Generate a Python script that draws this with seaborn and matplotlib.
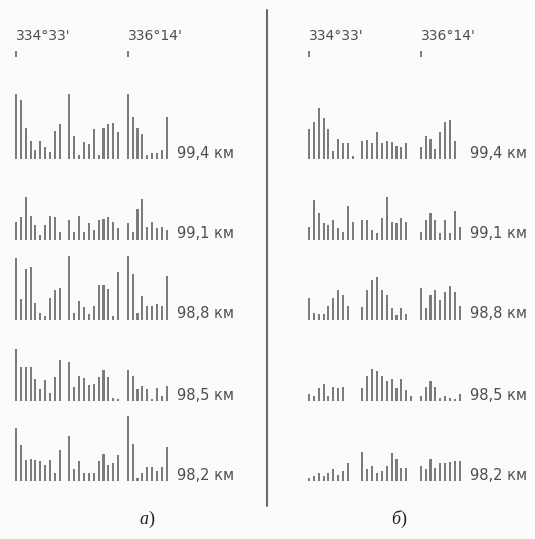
import matplotlib
matplotlib.use("Agg")
import matplotlib.pyplot as plt
from matplotlib.lines import Line2D
import pandas as pd
import seaborn as sns

# Depth of each trace (km) and the azimuth marks above the traces
depths = ["99,4 км", "99,1 км", "98,8 км", "98,5 км", "98,2 км"]
azimuths = ["334°33'", "336°14'"]
azimuth_pos = [0, 23]
panel_names = ["а", "б"]

# Panel а: amplitudes per trace, three azimuth sectors each
a_994 = [[65, 59, 31, 18, 9, 18, 12, 7, 28, 35],
         [65, 23, 4, 17, 15, 30, 4, 31, 35, 36, 27],
         [65, 42, 31, 25, 4, 6, 6, 9, 42]]
a_991 = [[18, 23, 43, 24, 15, 5, 15, 24, 23, 8],
         [20, 8, 24, 8, 17, 10, 20, 21, 23, 18, 12],
         [17, 8, 31, 41, 13, 18, 12, 13, 10]]
a_988 = [[62, 21, 51, 53, 17, 7, 4, 22, 30, 32],
         [64, 7, 19, 13, 6, 14, 35, 35, 31, 4, 48],
         [64, 46, 7, 24, 14, 14, 16, 14, 44]]
a_985 = [[52, 34, 34, 34, 22, 12, 21, 8, 24, 41],
         [39, 14, 25, 23, 16, 17, 24, 31, 24, 3, 2],
         [31, 25, 12, 15, 12, 2, 13, 5, 15]]
a_982 = [[53, 36, 21, 22, 21, 20, 16, 21, 8, 31],
         [45, 12, 20, 8, 8, 8, 20, 27, 16, 18, 26],
         [65, 37, 3, 8, 14, 14, 10, 14, 34]]

# Panel б
b_994 = [[30, 37, 51, 41, 30, 8, 20, 16, 16, 3],
         [18, 19, 16, 27, 16, 18, 17, 13, 12, 16, 0],
         [12, 23, 20, 10, 27, 37, 39, 18, 0]]
b_991 = [[13, 40, 27, 17, 15, 20, 12, 8, 34, 18],
         [20, 20, 10, 7, 22, 43, 18, 17, 22, 18, 0],
         [8, 20, 27, 20, 7, 20, 7, 29, 13]]
b_988 = [[22, 7, 6, 6, 14, 22, 30, 25, 14, 0],
         [13, 30, 40, 43, 30, 25, 12, 5, 12, 6, 0],
         [32, 12, 25, 30, 20, 28, 34, 28, 14]]
b_985 = [[7, 5, 13, 17, 5, 14, 13, 14, 0, 0],
         [13, 25, 32, 30, 25, 20, 22, 13, 22, 11, 5],
         [5, 14, 20, 14, 3, 5, 3, 2, 7]]
b_982 = [[3, 5, 8, 5, 8, 12, 6, 10, 18, 0],
         [29, 12, 15, 8, 10, 15, 28, 22, 13, 13, 0],
         [15, 12, 22, 13, 18, 18, 19, 20, 20]]

panels = [[a_994, a_991, a_988, a_985, a_982],
          [b_994, b_991, b_988, b_985, b_982]]

sns.set_theme(style="white")
plt.rcParams["font.family"] = ["DejaVu Sans"]

W, H = 535, 539
fig = plt.figure(figsize=(W / 100, H / 100), dpi=100, facecolor="#fbfbfb")

bar_color = "#7b7b7b"
text_color = "#4d4d4d"
pitch = 4.86           # px between neighbouring bars
first_bar_x = [16, 309]
baselines = [159, 240, 320, 401, 481]
ax_h = 102             # px, one data unit = one pixel


def trace(groups):
    vals = groups[0] + [0] + groups[1] + [0] + groups[2]
    return pd.DataFrame({"pos": range(len(vals)), "amp": vals})


for p, rows in enumerate(panels):
    for r, groups in enumerate(rows):
        left = (first_bar_x[p] - 0.5 * pitch) / W
        ax = fig.add_axes([left, (H - baselines[r]) / H, 32 * pitch / W, ax_h / H])
        ax.patch.set_alpha(0)
        df = trace(groups)
        sns.barplot(data=df, x="pos", y="amp", ax=ax, color=bar_color,
                    saturation=1, width=0.42, linewidth=0)
        ax.set_xlim(-0.5, 31.5)
        ax.set_ylim(0, ax_h)
        ax.set_xlabel("")
        ax.set_ylabel("")
        ax.set_yticks([])
        for s in ax.spines.values():
            s.set_visible(False)
        ax.text(33.1, 1.5, depths[r], fontsize=10.5, color=text_color,
                ha="left", va="baseline", clip_on=False)
        if r == 0:
            ax.xaxis.tick_top()
            ax.set_xticks(azimuth_pos)
            ax.set_xticklabels(azimuths)
            ax.tick_params(axis="x", top=True, bottom=False, length=4,
                           width=1.2, color="#666666", direction="out",
                           pad=6, labelsize=10, labelcolor=text_color)
            for lab in ax.get_xticklabels():
                lab.set_ha("left")
        else:
            ax.set_xticks([])

# divider between the two panels
fig.add_artist(Line2D([267 / W, 267 / W], [(H - 10) / H, (H - 506) / H],
                      color="#6a6a6a", linewidth=1.5))

# panel captions
for cx, name in zip([148, 400], panel_names):
    fig.text(cx / W, (H - 524) / H, name, fontsize=13, style="italic",
             family="Liberation Serif", color="#222222", ha="right", va="baseline")
    fig.text(cx / W, (H - 524) / H, ")", fontsize=13,
             family="Liberation Serif", color="#222222", ha="left", va="baseline")

fig.savefig("out.png", dpi=100, facecolor=fig.get_facecolor())
